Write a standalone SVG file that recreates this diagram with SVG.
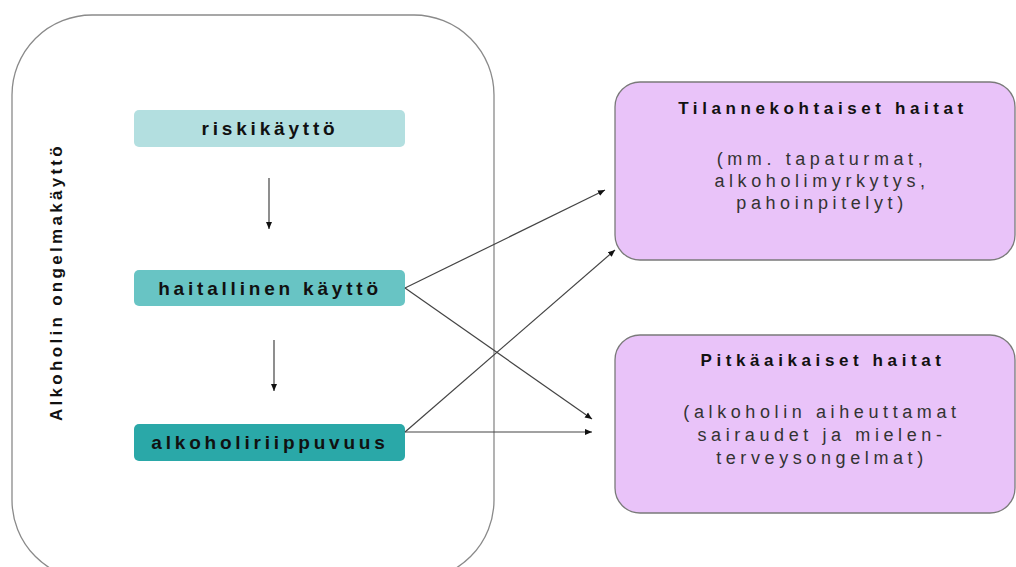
<svg xmlns="http://www.w3.org/2000/svg" width="1016" height="567" viewBox="0 0 1016 567">
<style>
.lbl{font-family:"Liberation Sans",Arial,sans-serif;font-weight:bold;font-size:19px;letter-spacing:3.8px;fill:#111;text-anchor:middle}
.v{font-family:"Liberation Sans",Arial,sans-serif;font-weight:bold;font-size:17px;letter-spacing:3.3px;fill:#111;text-anchor:middle}
.h{font-family:"Liberation Sans",Arial,sans-serif;font-weight:bold;font-size:17px;letter-spacing:4.6px;fill:#111;text-anchor:middle}
.t{font-family:"Liberation Sans",Arial,sans-serif;font-size:18px;letter-spacing:4.6px;fill:#333;text-anchor:middle}
.pv{fill:#e9c3f9;stroke:#7a7a7a;stroke-width:1.3}
.ln{stroke:#444;stroke-width:1.2;fill:none;marker-end:url(#ah)}
</style>
<defs>
<marker id="ah" markerWidth="8" markerHeight="8" refX="7" refY="4" orient="auto" markerUnits="userSpaceOnUse">
<path d="M0,1 L7,4 L0,7 Z" fill="#111"/>
</marker>
</defs>
<rect width="1016" height="567" fill="#fff"/>
<g id="group-main">
<rect x="12" y="15" width="482" height="565" rx="80" ry="80" fill="none" stroke="#8a8a8a" stroke-width="1.3"/>
<text class="v" transform="translate(62,282) rotate(-90)">Alkoholin ongelmakäyttö</text>
</g>
<g id="node-riski">
<rect x="134" y="110" width="271" height="37" rx="5" fill="#b3dfe0"/>
<text class="lbl" x="270" y="135">riskikäyttö</text>
</g>
<g id="node-haitallinen">
<rect x="134" y="270" width="271" height="36" rx="5" fill="#68c4c4"/>
<text class="lbl" x="270" y="295">haitallinen käyttö</text>
</g>
<g id="node-riippuvuus">
<rect x="134" y="424" width="271" height="37" rx="5" fill="#2aa8a8"/>
<text class="lbl" x="270" y="449">alkoholiriippuvuus</text>
</g>
<g id="node-tilanne">
<rect class="pv" x="615" y="82" width="400" height="178" rx="25"/>
<text class="h" x="823" y="114">Tilannekohtaiset haitat</text>
<text class="t" x="822" y="165">(mm. tapaturmat,</text>
<text class="t" x="822" y="187">alkoholimyrkytys,</text>
<text class="t" x="822" y="209">pahoinpitelyt)</text>
</g>
<g id="node-pitka">
<rect class="pv" x="615" y="335" width="400" height="178" rx="25"/>
<text class="h" x="823" y="366">Pitkäaikaiset haitat</text>
<text class="t" x="822" y="418">(alkoholin aiheuttamat</text>
<text class="t" x="822" y="441">sairaudet ja mielen-</text>
<text class="t" x="822" y="464">terveysongelmat)</text>
</g>
<g id="connectors">
<line class="ln" x1="269" y1="178" x2="269" y2="229"/>
<line class="ln" x1="274" y1="340" x2="274" y2="391"/>
<line class="ln" x1="405" y1="288" x2="605" y2="190"/>
<line class="ln" x1="405" y1="288" x2="592" y2="419"/>
<line class="ln" x1="405" y1="432" x2="615" y2="250"/>
<line class="ln" x1="405" y1="432" x2="592" y2="432"/>
</g>
</svg>
